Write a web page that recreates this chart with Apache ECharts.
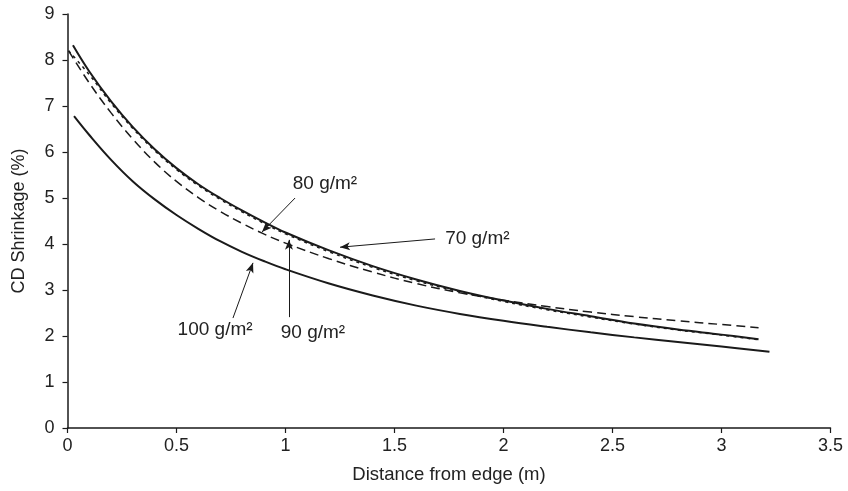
<!DOCTYPE html>
<html>
<head>
<meta charset="utf-8">
<script src="https://cdn.jsdelivr.net/npm/echarts@6/dist/echarts.min.js"></script>
<style>html,body{margin:0;padding:0;background:#fff}#c{width:848px;height:491px}</style>
</head>
<body>
<div id="c"></div>
<script>
// Data
const x70  = [0.025, 0.1, 0.2, 0.3, 0.4, 0.5, 0.6, 0.7, 0.8, 0.9, 1.0, 1.2, 1.4, 1.6, 1.8, 2.0, 2.2, 2.4, 2.6, 2.8, 3.0, 3.17];
const y70  = [8.32, 7.75, 7.1, 6.54, 6.06, 5.65, 5.3, 5.0, 4.73, 4.48, 4.25, 3.86, 3.52, 3.23, 2.98, 2.77, 2.59, 2.43, 2.27, 2.14, 2.03, 1.93];
const x80  = [0.005, 0.1, 0.2, 0.3, 0.4, 0.5, 0.6, 0.7, 0.8, 0.9, 1.0, 1.2, 1.4, 1.6, 1.8, 2.0, 2.2, 2.4, 2.6, 2.8, 3.0, 3.17];
const y80  = [8.2, 7.68, 7.06, 6.51, 6.03, 5.62, 5.27, 4.97, 4.7, 4.45, 4.22, 3.83, 3.49, 3.2, 2.96, 2.75, 2.57, 2.41, 2.26, 2.13, 2.02, 1.92];
const x90  = [0.005, 0.1, 0.2, 0.3, 0.4, 0.5, 0.6, 0.7, 0.8, 0.9, 1.0, 1.2, 1.4, 1.6, 1.8, 2.0, 2.2, 2.4, 2.6, 2.8, 3.0, 3.17];
const y90  = [8.2, 7.5, 6.85, 6.28, 5.78, 5.36, 5.01, 4.71, 4.45, 4.22, 4.02, 3.68, 3.39, 3.14, 2.94, 2.78, 2.64, 2.52, 2.42, 2.33, 2.25, 2.18];
const x100 = [0.03, 0.1, 0.2, 0.3, 0.4, 0.5, 0.6, 0.7, 0.8, 0.9, 1.0, 1.2, 1.4, 1.6, 1.8, 2.0, 2.2, 2.4, 2.6, 2.8, 3.0, 3.22];
const y100 = [6.78, 6.37, 5.83, 5.36, 4.97, 4.63, 4.33, 4.06, 3.83, 3.63, 3.45, 3.14, 2.88, 2.66, 2.48, 2.33, 2.2, 2.08, 1.97, 1.87, 1.77, 1.66];

const seriesNames = ['70 g/m²', '80 g/m²', '90 g/m²', '100 g/m²'];
// annotation text positions (data coords) and arrows [from, tip]
const labelPos = [[1.88, 4.11], [1.181, 5.30], [1.126, 2.07], [0.677, 2.13]];
const arrowFrom = [[1.686, 4.11], [1.044, 5.0], [1.016, 2.41], [0.759, 2.39]];
const arrowTip  = [[1.25, 3.93], [0.892, 4.26], [1.016, 4.09], [0.851, 3.59]];

const xTicks = {min: 0, max: 3.5, interval: 0.5};
const yTicks = {min: 0, max: 9, interval: 1};

function pairs(xs, ys) { return xs.map((x, i) => [x, ys[i]]); }

const FONT = 'Liberation Sans, Arial, sans-serif';
const INK = '#1a1a1a';

const chart = echarts.init(document.getElementById('c'));
const lineBase = {type: 'line', showSymbol: false, smooth: 0.4, silent: true};

chart.setOption({
  animation: false,
  backgroundColor: '#fff',
  grid: {left: 67.5, right: 17.5, top: 14, bottom: 63, containLabel: false},
  xAxis: {
    type: 'value', min: xTicks.min, max: xTicks.max, interval: xTicks.interval,
    name: 'Distance from edge (m)', nameLocation: 'middle', nameGap: 37,
    nameTextStyle: {fontFamily: FONT, fontSize: 18.5, color: '#222'},
    axisLine: {show: true, onZero: false, lineStyle: {color: INK, width: 1.5}},
    axisTick: {show: true, length: 5, lineStyle: {color: INK, width: 1.2}},
    axisLabel: {fontFamily: FONT, fontSize: 18, color: '#222', margin: 9},
    splitLine: {show: false}
  },
  yAxis: {
    type: 'value', min: yTicks.min, max: yTicks.max, interval: yTicks.interval,
    name: 'CD Shrinkage (%)', nameLocation: 'middle', nameGap: 39, nameRotate: 90,
    nameTextStyle: {fontFamily: FONT, fontSize: 18, color: '#222'},
    axisLine: {show: true, onZero: false, lineStyle: {color: INK, width: 1.5}},
    axisTick: {show: true, length: 5, lineStyle: {color: INK, width: 1.2}},
    axisLabel: {fontFamily: FONT, fontSize: 18, color: '#222', margin: 13},
    splitLine: {show: false}
  },
  series: [
    Object.assign({}, lineBase, {name: seriesNames[0], data: pairs(x70, y70),
      lineStyle: {color: INK, width: 2}}),
    Object.assign({}, lineBase, {name: seriesNames[1], data: pairs(x80, y80),
      lineStyle: {color: INK, width: 1.5, type: [3, 4]}}),
    Object.assign({}, lineBase, {name: seriesNames[2], data: pairs(x90, y90),
      lineStyle: {color: INK, width: 1.5, type: [9, 5]}}),
    Object.assign({}, lineBase, {name: seriesNames[3], data: pairs(x100, y100),
      lineStyle: {color: INK, width: 2}}),
    {
      type: 'line', name: 'annotations', data: [], silent: true,
      itemStyle: {color: INK},
      markLine: {
        silent: true, animation: false,
        symbol: ['none', 'arrow'], symbolSize: 9,
        itemStyle: {color: INK},
        label: {show: false},
        lineStyle: {color: INK, width: 1, type: 'solid'},
        emphasis: {disabled: true},
        data: arrowFrom.map((f, i) => [
          {coord: f, symbol: 'none'},
          {coord: arrowTip[i], symbol: 'arrow', symbolSize: [6, 10]}
        ])
      },
      markPoint: {
        silent: true, animation: false,
        symbol: 'circle', symbolSize: 0,
        itemStyle: {color: 'transparent'},
        label: {show: true, position: 'inside', fontFamily: FONT, fontSize: 19, color: '#222',
          formatter: p => p.name},
        data: labelPos.map((c, i) => ({name: seriesNames[i], coord: c}))
      }
    }
  ]
});
</script>
</body>
</html>
